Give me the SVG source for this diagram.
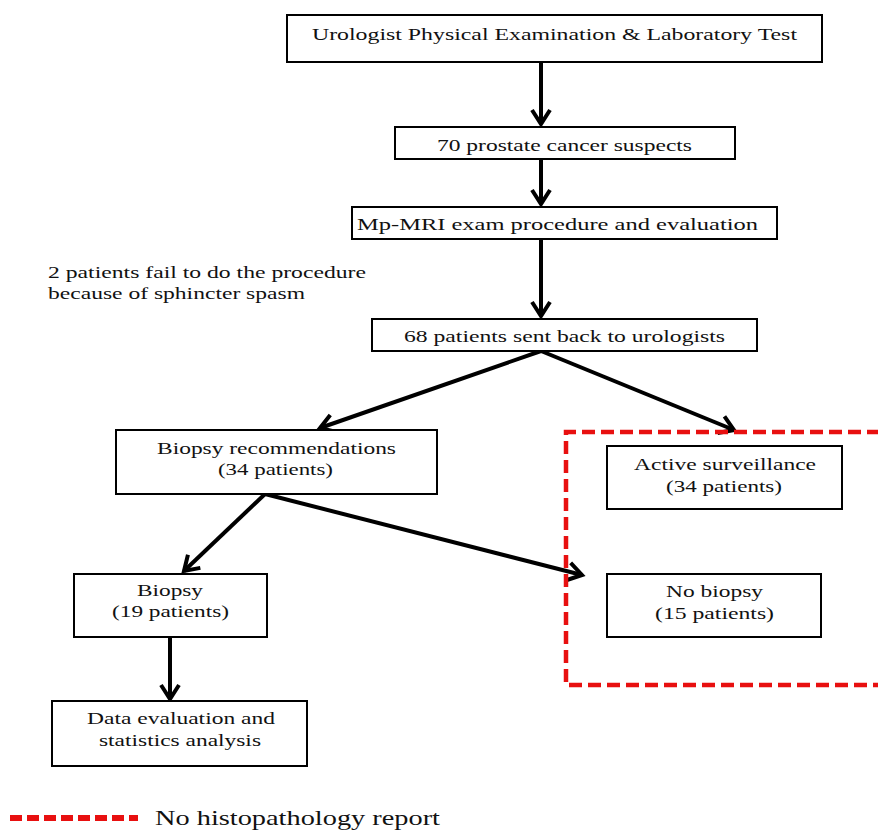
<svg xmlns="http://www.w3.org/2000/svg" width="878" height="830" viewBox="0 0 878 830">
<style>
.box{fill:#fff;stroke:#000;stroke-width:2}
.t{font-family:"Liberation Serif","Times New Roman",serif;font-size:17px;fill:#111}
.arr{stroke:#000;stroke-width:4;fill:none}
.red{stroke:#e81010;stroke-width:4.5;fill:none;stroke-dasharray:13 6}
</style>
<defs>
<marker id="ah" markerUnits="userSpaceOnUse" markerWidth="24" markerHeight="26" viewBox="-20 -13 24 26" refX="0" refY="0" orient="auto">
<path d="M-14,-9 L0,0 L-14,9" stroke="#000" stroke-width="4" fill="none"/>
</marker>
</defs>
<rect width="878" height="830" fill="#fff"/>

<g id="connectors">
<line class="arr" x1="541" y1="62" x2="541" y2="124" marker-end="url(#ah)"/>
<line class="arr" x1="541" y1="159" x2="541" y2="204" marker-end="url(#ah)"/>
<line class="arr" x1="541" y1="239" x2="541" y2="316" marker-end="url(#ah)"/>
<line class="arr" x1="541" y1="351" x2="320" y2="428" marker-end="url(#ah)"/>
<line class="arr" x1="541" y1="351" x2="734" y2="430" marker-end="url(#ah)"/>
<line class="arr" x1="265" y1="494" x2="184" y2="571" marker-end="url(#ah)"/>
<line class="arr" x1="265" y1="494" x2="582" y2="575" marker-end="url(#ah)"/>
<line class="arr" x1="170" y1="637" x2="170" y2="699" marker-end="url(#ah)"/>
</g>

<g id="no-histo-region">
<path class="red" d="M880,432 L566,432 L566,685 L880,685"/>
</g>

<g id="n1">
<rect class="box" x="287" y="15" width="535" height="47"/>
<text class="t" x="312" y="40" textLength="485" lengthAdjust="spacingAndGlyphs">Urologist Physical Examination &amp; Laboratory Test</text>
</g>
<g id="n2">
<rect class="box" x="395" y="127" width="340" height="32"/>
<text class="t" x="437" y="151" textLength="255" lengthAdjust="spacingAndGlyphs">70 prostate cancer suspects</text>
</g>
<g id="n3">
<rect class="box" x="352" y="207" width="425" height="32"/>
<text class="t" x="357" y="230" textLength="401" lengthAdjust="spacingAndGlyphs">Mp-MRI exam procedure and evaluation</text>
</g>
<g id="note">
<text class="t" x="48" y="278" textLength="318" lengthAdjust="spacingAndGlyphs">2 patients fail to do the procedure</text>
<text class="t" x="48" y="299" textLength="257" lengthAdjust="spacingAndGlyphs">because of sphincter spasm</text>
</g>
<g id="n4">
<rect class="box" x="372" y="319" width="385" height="32"/>
<text class="t" x="404" y="342" textLength="321" lengthAdjust="spacingAndGlyphs">68 patients sent back to urologists</text>
</g>
<g id="n5">
<rect class="box" x="116" y="430" width="321" height="64"/>
<text class="t" x="157" y="454" textLength="239" lengthAdjust="spacingAndGlyphs">Biopsy recommendations</text>
<text class="t" x="218" y="475" textLength="115" lengthAdjust="spacingAndGlyphs">(34 patients)</text>
</g>
<g id="n6">
<rect class="box" x="607" y="446" width="235" height="63"/>
<text class="t" x="634" y="470" textLength="182" lengthAdjust="spacingAndGlyphs">Active surveillance</text>
<text class="t" x="666" y="492" textLength="116" lengthAdjust="spacingAndGlyphs">(34 patients)</text>
</g>
<g id="n7">
<rect class="box" x="74" y="574" width="193" height="63"/>
<text class="t" x="137" y="596" textLength="66" lengthAdjust="spacingAndGlyphs">Biopsy</text>
<text class="t" x="112" y="617" textLength="117" lengthAdjust="spacingAndGlyphs">(19 patients)</text>
</g>
<g id="n8">
<rect class="box" x="607" y="574" width="214" height="63"/>
<text class="t" x="666" y="597" textLength="97" lengthAdjust="spacingAndGlyphs">No biopsy</text>
<text class="t" x="655" y="619" textLength="119" lengthAdjust="spacingAndGlyphs">(15 patients)</text>
</g>
<g id="n9">
<rect class="box" x="52" y="701" width="255" height="65"/>
<text class="t" x="87" y="724" textLength="188" lengthAdjust="spacingAndGlyphs">Data evaluation and</text>
<text class="t" x="99" y="746" textLength="162" lengthAdjust="spacingAndGlyphs">statistics analysis</text>
</g>
<g id="legend">
<line class="red" x1="10" y1="818" x2="138" y2="818" style="stroke-width:6;stroke-dasharray:12 5"/>
<text class="t" x="155" y="825" style="font-size:22px" textLength="285" lengthAdjust="spacingAndGlyphs">No histopathology report</text>
</g>
</svg>
